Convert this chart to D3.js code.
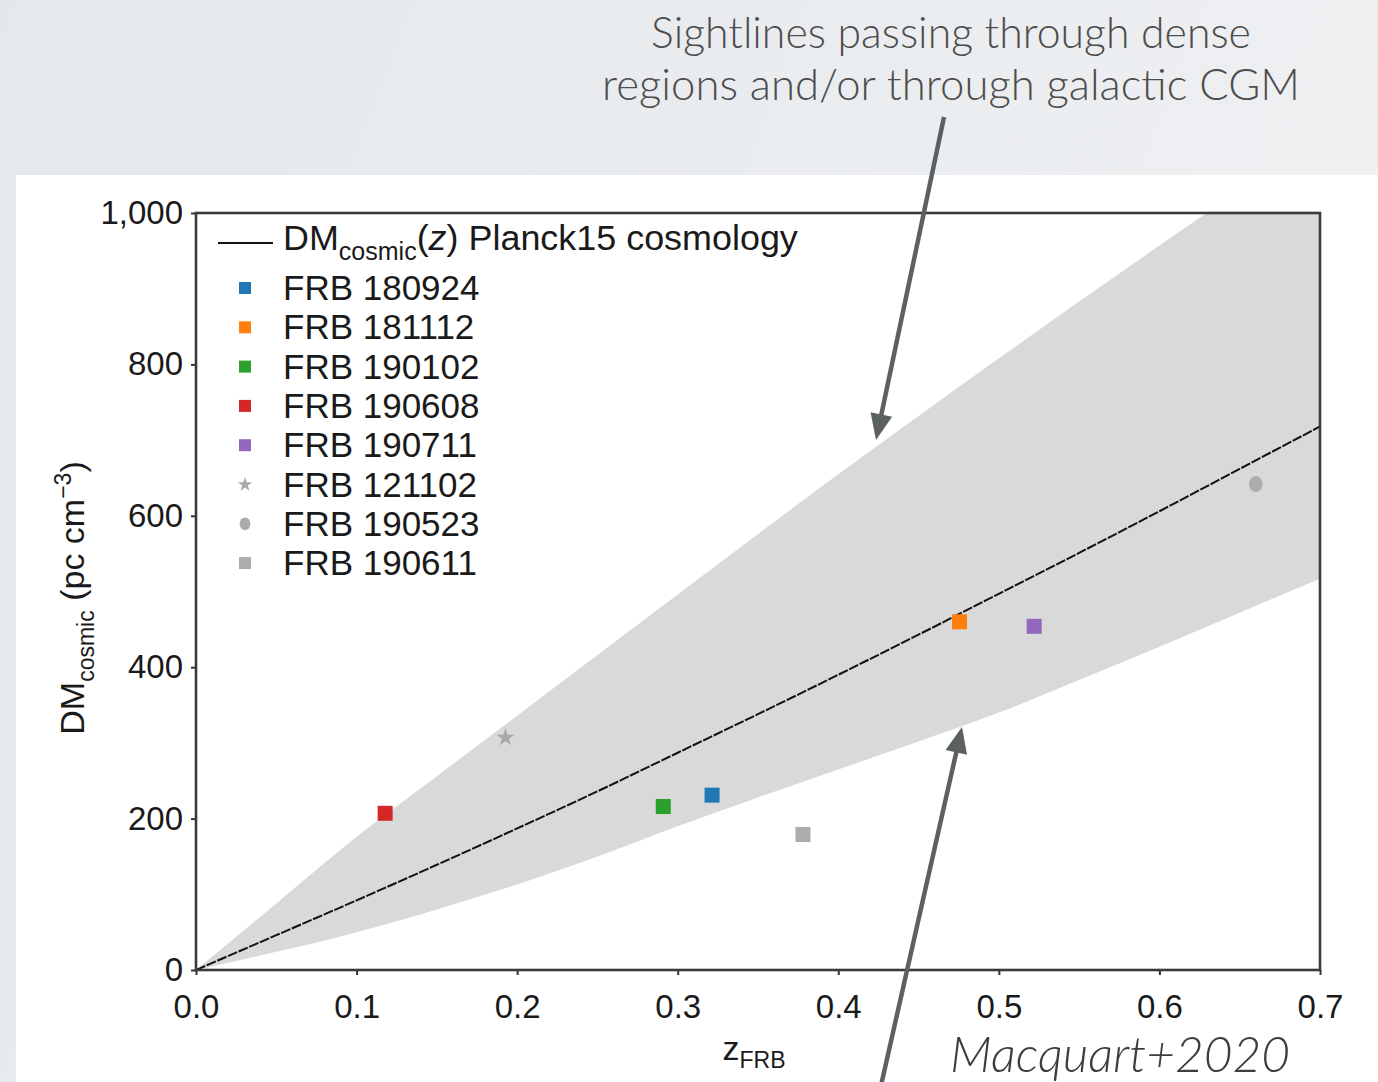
<!DOCTYPE html>
<html>
<head>
<meta charset="utf-8">
<script src="https://cdn.jsdelivr.net/npm/d3@7"></script>
<style>
  body { margin: 0; padding: 0; overflow: hidden; }
  svg { display: block; }
</style>
</head>
<body>
<script>
// ---- data ----
var gridZ     = [0, 0.05, 0.1, 0.15, 0.2, 0.25, 0.3, 0.35, 0.4, 0.45, 0.5, 0.55, 0.6, 0.65, 0.7];
var meanDM    = [0, 46, 92, 139, 187, 236, 287, 338, 390, 443, 497, 551, 606, 662, 718];
var upperDM   = [0, 88, 176, 256, 336, 416, 496, 576, 655, 732, 808, 883, 957, 1030, 1102];
var lowerDM   = [0, 24, 50, 80, 113, 150, 190, 228, 265, 302, 340, 383, 427, 472, 517];

var frbNames  = ["FRB 180924", "FRB 181112", "FRB 190102", "FRB 190608", "FRB 190711", "FRB 121102", "FRB 190523", "FRB 190611"];
var frbZ      = [0.3214, 0.4755, 0.291, 0.1178, 0.522, 0.1927, 0.66, 0.378];
var frbDM     = [231, 460, 216, 207, 454, 307, 642, 179];
var frbColors = ["#1f77b4", "#ff7f0e", "#2ca02c", "#d62728", "#9467bd", "#a8a8a8", "#acacac", "#acacac"];
var frbShapes = ["square", "square", "square", "square", "square", "star", "circle", "square"];

var xTicks = [0, 0.1, 0.2, 0.3, 0.4, 0.5, 0.6, 0.7];
var yTicks = [0, 200, 400, 600, 800, 1000];

var W = 1378, H = 1082;
var sans = "'Liberation Sans', Arial, Helvetica, sans-serif";
var slideFont = "Lato, 'Open Sans', sans-serif";

var svg = d3.select("body").append("svg")
  .attr("width", W)
  .attr("height", H);

var defs = svg.append("defs");

// slide background (light grey gradient)
var grad = defs.append("linearGradient").attr("id", "slidebg")
  .attr("x1", 0).attr("y1", 0).attr("x2", 1).attr("y2", 0.3);
grad.append("stop").attr("offset", "0%").attr("stop-color", "#e5e8eb");
grad.append("stop").attr("offset", "100%").attr("stop-color", "#eef0f2");

svg.append("rect").attr("width", W).attr("height", H).attr("fill", "url(#slidebg)");

// white panel holding the figure
svg.append("rect")
  .attr("x", 16).attr("y", 175)
  .attr("width", W - 16).attr("height", H - 175)
  .attr("fill", "#ffffff");

// ---- scales ----
var x = d3.scaleLinear().domain([0, 0.7]).range([196, 1320]);
var y = d3.scaleLinear().domain([0, 1000]).range([970, 213]);

defs.append("clipPath").attr("id", "plotclip")
  .append("rect")
  .attr("x", x(0)).attr("y", y(1000))
  .attr("width", x(0.7) - x(0)).attr("height", y(0) - y(1000));

var plot = svg.append("g").attr("clip-path", "url(#plotclip)");

// grey scatter band
var band = d3.area()
  .x(function(d, i) { return x(gridZ[i]); })
  .y0(function(d, i) { return y(lowerDM[i]); })
  .y1(function(d, i) { return y(upperDM[i]); })
  .curve(d3.curveMonotoneX);

plot.append("path")
  .datum(gridZ)
  .attr("d", band)
  .attr("fill", "#d9d9d9");

// mean DM_cosmic(z) curve
var meanLine = d3.line()
  .x(function(d, i) { return x(gridZ[i]); })
  .y(function(d, i) { return y(meanDM[i]); })
  .curve(d3.curveMonotoneX);

plot.append("path")
  .datum(gridZ)
  .attr("d", meanLine)
  .attr("fill", "none")
  .attr("stroke", "#111")
  .attr("stroke-width", 2)
  .attr("stroke-dasharray", "10,1.6");

// draws one marker of a given shape centred on cx, cy
function drawMarker(g, shape, cx, cy, color, s) {
  if (shape === "square") {
    g.append("rect")
      .attr("x", cx - s / 2).attr("y", cy - s / 2)
      .attr("width", s).attr("height", s)
      .attr("fill", color);
  } else if (shape === "circle") {
    g.append("ellipse")
      .attr("cx", cx).attr("cy", cy)
      .attr("rx", s * 0.45).attr("ry", s * 0.53)
      .attr("fill", color);
  } else {
    g.append("path")
      .attr("transform", "translate(" + cx + "," + cy + ")")
      .attr("d", d3.symbol().type(d3.symbolStar).size(s * s * 0.45)())
      .attr("fill", color);
  }
}

// FRB points
var pts = svg.append("g").attr("class", "points");
frbNames.forEach(function(n, i) {
  drawMarker(pts, frbShapes[i], x(frbZ[i]), y(frbDM[i]), frbColors[i], 15);
});

// ---- axes ----
var xAxis = d3.axisBottom(x)
  .tickValues(xTicks)
  .tickFormat(d3.format(".1f"))
  .tickSize(5)
  .tickPadding(20);

var yAxis = d3.axisLeft(y)
  .tickValues(yTicks)
  .tickFormat(d3.format(","))
  .tickSize(5)
  .tickPadding(8);

var gx = svg.append("g").attr("transform", "translate(0," + y(0) + ")").call(xAxis);
var gy = svg.append("g").attr("transform", "translate(" + x(0) + ",0)").call(yAxis);

[gx, gy].forEach(function(g) {
  g.select(".domain").remove();
  g.selectAll(".tick line").attr("stroke", "#333").attr("stroke-width", 2);
  g.selectAll(".tick text")
    .attr("fill", "#1a1a1a")
    .style("font-family", sans)
    .style("font-size", "33px");
});

// plot frame
svg.append("rect")
  .attr("x", x(0)).attr("y", y(1000))
  .attr("width", x(0.7) - x(0)).attr("height", y(0) - y(1000))
  .attr("fill", "none")
  .attr("stroke", "#3a3a3a")
  .attr("stroke-width", 2.6);

// axis titles
var ylab = svg.append("text")
  .attr("transform", "translate(84,598) rotate(-90)")
  .attr("text-anchor", "middle")
  .attr("fill", "#1a1a1a")
  .style("font-family", sans)
  .style("font-size", "34px");
ylab.append("tspan").text("DM");
ylab.append("tspan").attr("dy", 10).style("font-size", "23px").text("cosmic");
ylab.append("tspan").attr("dy", -10).text(" (pc cm");
ylab.append("tspan").attr("dy", -13).style("font-size", "23px").text("\u22123");
ylab.append("tspan").attr("dy", 13).text(")");

var xlab = svg.append("text")
  .attr("x", 754).attr("y", 1060)
  .attr("text-anchor", "middle")
  .attr("fill", "#1a1a1a")
  .style("font-family", sans)
  .style("font-size", "34px");
xlab.append("tspan").text("z");
xlab.append("tspan").attr("dy", 8).style("font-size", "23px").text("FRB");

// ---- legend ----
var legend = svg.append("g").attr("class", "legend");
var legX = 283, legFirst = 288, legStep = 39.3;

legend.append("line")
  .attr("x1", 218).attr("x2", 273)
  .attr("y1", 243).attr("y2", 243)
  .attr("stroke", "#111").attr("stroke-width", 2);

var lt = legend.append("text")
  .attr("x", legX).attr("y", 250)
  .attr("fill", "#1a1a1a")
  .style("font-family", sans)
  .style("font-size", "35px");
lt.append("tspan").text("DM");
lt.append("tspan").attr("dy", 10).style("font-size", "25px").text("cosmic");
lt.append("tspan").attr("dy", -10).text("(");
lt.append("tspan").style("font-style", "italic").text("z");
lt.append("tspan").text(") Planck15 cosmology");
fitWidth(lt, 517);

frbNames.forEach(function(n, i) {
  var cy = legFirst + legStep * i;
  drawMarker(legend, frbShapes[i], 245, cy, frbColors[i], 12);
  legend.append("text")
    .attr("x", legX).attr("y", cy + 12)
    .attr("fill", "#1a1a1a")
    .style("font-family", sans)
    .style("font-size", "35px")
    .text(n);
});

// ---- slide annotations ----
// fits a text element to a given width by scaling its font size
function fitWidth(t, width) {
  var fs = parseFloat(t.style("font-size"));
  var w = t.node().getComputedTextLength();
  if (w > 0) t.style("font-size", (fs * width / w) + "px");
}

var note1 = svg.append("text")
  .attr("x", 951).attr("y", 48)
  .attr("text-anchor", "middle")
  .attr("fill", "#4d4d4d")
  .style("font-family", slideFont)
  .style("font-weight", 300)
  .style("font-size", "42px")
  .text("Sightlines passing through dense");
fitWidth(note1, 600);

var note2 = svg.append("text")
  .attr("x", 951).attr("y", 100)
  .attr("text-anchor", "middle")
  .attr("fill", "#4d4d4d")
  .style("font-family", slideFont)
  .style("font-weight", 300)
  .style("font-size", "42px")
  .text("regions and/or through galactic CGM");
fitWidth(note2, 698);

var cite = svg.append("text")
  .attr("x", 1120).attr("y", 1072)
  .attr("text-anchor", "middle")
  .attr("fill", "#3d3d3d")
  .style("font-family", slideFont)
  .style("font-weight", 300)
  .style("font-style", "italic")
  .style("font-size", "46px")
  .text("Macquart+2020");
fitWidth(cite, 340);

// arrows: straight shaft plus a filled triangular head
function arrow(x1, y1, x2, y2) {
  var len = 26, half = 11;
  var dx = x2 - x1, dy = y2 - y1, d = Math.sqrt(dx * dx + dy * dy);
  var ux = dx / d, uy = dy / d;
  var bx = x2 - ux * len, by = y2 - uy * len;
  svg.append("line")
    .attr("x1", x1).attr("y1", y1)
    .attr("x2", bx + ux * 2).attr("y2", by + uy * 2)
    .attr("stroke", "#5b6161")
    .attr("stroke-width", 4.5);
  svg.append("path")
    .attr("d", "M" + x2 + "," + y2 +
               "L" + (bx - uy * half) + "," + (by + ux * half) +
               "L" + (bx + uy * half) + "," + (by - ux * half) + "Z")
    .attr("fill", "#5b6161");
}

arrow(944, 117, 876, 440);
arrow(880, 1090, 962, 727);
</script>
</body>
</html>
